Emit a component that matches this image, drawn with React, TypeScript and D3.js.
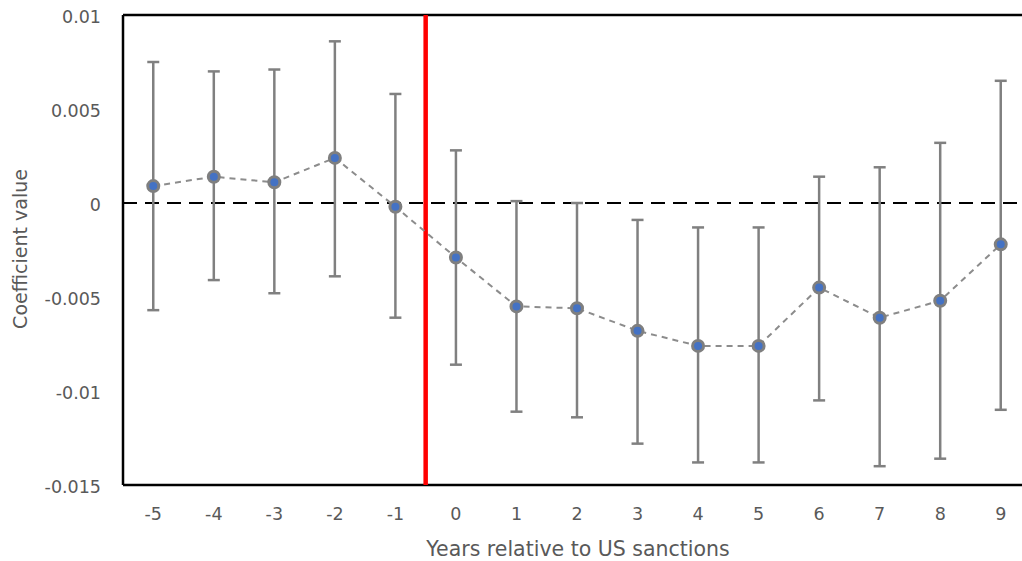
import React from 'react';
import * as d3 from 'd3';

const years = [-5, -4, -3, -2, -1, 0, 1, 2, 3, 4, 5, 6, 7, 8, 9];
const coef = [0.0009, 0.0014, 0.0011, 0.0024, -0.0002, -0.0029, -0.0055, -0.0056, -0.0068, -0.0076, -0.0076, -0.0045, -0.0061, -0.0052, -0.0022];
const upper = [0.0075, 0.007, 0.0071, 0.0086, 0.0058, 0.0028, 0.0001, 0.0, -0.0009, -0.0013, -0.0013, 0.0014, 0.0019, 0.0032, 0.0065];
const lower = [-0.0057, -0.0041, -0.0048, -0.0039, -0.0061, -0.0086, -0.0111, -0.0114, -0.0128, -0.0138, -0.0138, -0.0105, -0.014, -0.0136, -0.011];
const yTicks = [0.01, 0.005, 0, -0.005, -0.01, -0.015];
const yTickLabels = ['0.01', '0.005', '0', '-0.005', '-0.01', '-0.015'];
const sanctionAt = -0.5;

const App = () => {
  const width = 1022, height = 561;
  const left = 123, top = 15, bottom = 485, right = 1031;

  const x = d3.scaleBand<number>().domain(years).range([left, right]);
  const cx = (d: number) => (x(d) as number) + x.bandwidth() / 2;
  const y = d3.scaleLinear().domain([-0.015, 0.01]).range([bottom, top]);
  // red line sits between -1 and 0
  const redX = (cx(-1) + cx(0)) / 2 + (sanctionAt + 0.5) * x.bandwidth();

  const line = d3.line<number>().x((d, i) => cx(years[i])).y(d => y(d));
  const font = '"DejaVu Sans", sans-serif';
  const grey = '#595959';

  return (
    <svg width={width} height={height} style={{position: 'absolute', left: 0, top: 0, background: '#fff'}}>
      {/* frame: left, top, bottom */}
      <line x1={left} x2={left} y1={top} y2={bottom} stroke="#000" strokeWidth={2.5}/>
      <line x1={left} x2={width} y1={top} y2={top} stroke="#000" strokeWidth={2.5}/>
      <line x1={left} x2={width} y1={bottom} y2={bottom} stroke="#000" strokeWidth={2.5}/>
      {/* zero line */}
      <line x1={left} x2={width} y1={y(0)} y2={y(0)} stroke="#000" strokeWidth={2.2} strokeDasharray="14,8"/>
      {/* red sanction line */}
      <line x1={redX} x2={redX} y1={top} y2={bottom} stroke="#ff0000" strokeWidth={4.5}/>
      {/* error bars */}
      {years.map((d, i) => (
        <g key={'e' + d} stroke="#808080" strokeWidth={2.5}>
          <line x1={cx(d)} x2={cx(d)} y1={y(upper[i])} y2={y(lower[i])}/>
          <line x1={cx(d) - 6} x2={cx(d) + 6} y1={y(upper[i])} y2={y(upper[i])}/>
          <line x1={cx(d) - 6} x2={cx(d) + 6} y1={y(lower[i])} y2={y(lower[i])}/>
        </g>
      ))}
      <path d={line(coef) || ''} fill="none" stroke="#8c8c8c" strokeWidth={2} strokeDasharray="6,5"/>
      {years.map((d, i) => (
        <circle key={'p' + d} cx={cx(d)} cy={y(coef[i])} r={5.5} fill="#4472c4" stroke="#7f7f7f" strokeWidth={3}/>
      ))}
      {/* y ticks */}
      {yTicks.map((t, i) => (
        <text key={'y' + t} x={101} y={y(t) + 8} textAnchor="end" fontSize={17.5} fill={grey} fontFamily={font}>{yTickLabels[i]}</text>
      ))}
      {years.map(d => (
        <text key={'x' + d} x={cx(d)} y={520} textAnchor="middle" fontSize={17.5} fill={grey} fontFamily={font}>{d}</text>
      ))}
      <text x={578} y={556} textAnchor="middle" fontSize={20.5} fill={grey} fontFamily={font}>Years relative to US sanctions</text>
      <text transform={`translate(27,${249}) rotate(-90)`} textAnchor="middle" fontSize={19} fill={grey} fontFamily={font}>Coefficient value</text>
    </svg>
  );
};

export default App;
